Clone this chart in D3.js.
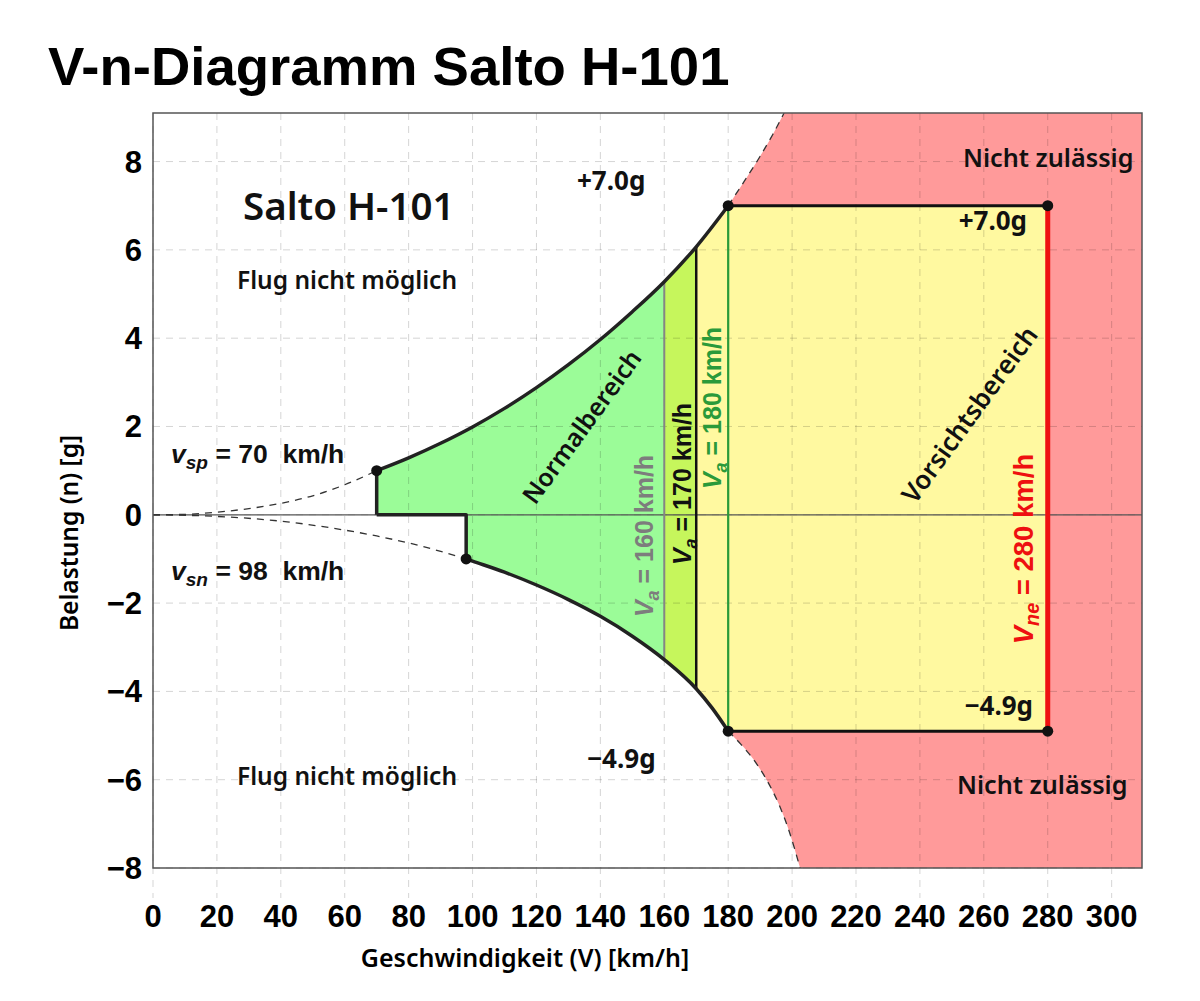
<!DOCTYPE html>
<html><head><meta charset="utf-8">
<script src="https://cdn.jsdelivr.net/npm/d3@7"></script>
<style>html,body{margin:0;padding:0;background:#fff;} svg{display:block;}</style>
</head><body>
<svg id="chart" width="1200" height="1001"></svg>
<script>
// ---------- data ----------
const xTicks = [0,20,40,60,80,100,120,140,160,180,200,220,240,260,280,300];
const yTicks = [-8,-6,-4,-2,0,2,4,6,8];

// positive stall line (dashed part, below v_sp)
const posStallV = [0,10,20,30,40,50,60,70];
const posStallN = [0,0.01,0.06,0.14,0.26,0.43,0.68,1.0];
// positive envelope boundary (solid)
const upperV = [70,80,90,100,110,120,130,140,150,160,170,180];
const upperN = [1.0,1.29,1.62,1.99,2.41,2.88,3.4,3.97,4.6,5.28,6.07,7.0];
// continuation above +7 g (dashed)
const upperExtV = [180,185,190,194,197.5];
const upperExtN = [7.0,7.55,8.12,8.62,9.1];

// negative stall line (dashed part, below v_sn)
const negStallV = [0,14,28,42,56,70,84,98];
const negStallN = [0,-0.02,-0.07,-0.16,-0.3,-0.48,-0.71,-1.0];
// negative envelope boundary (solid)
const lowerV = [98,100,110,120,130,140,150,160,170,175,180];
const lowerN = [-1.0,-1.05,-1.3,-1.59,-1.92,-2.3,-2.75,-3.28,-3.94,-4.38,-4.9];
// continuation below -4.9 g (dashed)
const lowerExtV = [180,184,188,192,196,199,202.5];
const lowerExtN = [-4.9,-5.2,-5.55,-6.0,-6.58,-7.15,-8.0];

const vSp = 70, vSn = 98, vA160 = 160, vA170 = 170, vA180 = 180, vNe = 280;
const nPos = 7.0, nNeg = -4.9;
const cornerPoints = [[70,1],[98,-1],[180,7],[180,-4.9],[280,7],[280,-4.9]];

// ---------- layout ----------
const L = 153, R = 1142, T = 113, B = 868;
const x = d3.scaleLinear().domain([0, 309.5]).range([L, R]);
const y = d3.scaleLinear().domain([-8, 9.1]).range([B, T]);

const svg = d3.select("#chart");
const SANS = "'Noto Sans', 'DejaVu Sans', sans-serif";
const ARIAL = "'Liberation Sans', Arial, sans-serif";

const zip = (vs, ns) => vs.map((v, i) => [v, ns[i]]);
const line = d3.line().x(d => x(d[0])).y(d => y(d[1])).curve(d3.curveMonotoneX);
const lin = d3.line().x(d => x(d[0])).y(d => y(d[1]));
const P = (v, n) => x(v) + "," + y(n);
const nAt = (vs, ns, v) => ns[vs.indexOf(v)];

const upperPts = zip(upperV, upperN);
const lowerPts = zip(lowerV, lowerN);

const defs = svg.append("defs");
defs.append("clipPath").attr("id", "plot").append("rect")
  .attr("x", L).attr("y", T).attr("width", R - L).attr("height", B - T);
function band(id, v0, v1) {
  defs.append("clipPath").attr("id", id).append("rect")
    .attr("x", x(v0)).attr("y", T).attr("width", x(v1) - x(v0)).attr("height", B - T);
}
band("cGreen", 60, vA160);
band("cLime", vA160, vA170);
band("cYellow", vA170, 300);

const plotG = svg.append("g").attr("clip-path", "url(#plot)");

// red (not permitted) region
const redPath = line(zip(upperExtV, upperExtN).reverse())
  + "L" + P(vA180, nNeg)
  + line(zip(lowerExtV, lowerExtN)).replace(/^M/, "L")
  + "L" + P(309.5, -8) + "L" + P(309.5, 9.1) + "Z";
plotG.append("path").attr("d", redPath).attr("fill", "#ff9a9a");

// envelope
const envPath = "M" + P(vSp, 0)
  + line(upperPts).replace(/^M/, "L")
  + "L" + P(vNe, nPos) + "L" + P(vNe, nNeg)
  + line(lowerPts.slice().reverse()).replace(/^M/, "L")
  + "L" + P(vSn, 0) + "Z";
plotG.append("path").attr("d", envPath).attr("fill", "#fff9a0").attr("clip-path", "url(#cYellow)");
plotG.append("path").attr("d", envPath).attr("fill", "#c6f65c").attr("clip-path", "url(#cLime)");
plotG.append("path").attr("d", envPath).attr("fill", "#9bfc98").attr("clip-path", "url(#cGreen)");

// grid
const gridG = svg.append("g").attr("stroke", "#000").attr("stroke-opacity", 0.17)
  .attr("stroke-width", 1).attr("stroke-dasharray", "7,6");
gridG.selectAll("line.v").data(xTicks).join("line")
  .attr("x1", d => x(d)).attr("x2", d => x(d)).attr("y1", T).attr("y2", 898);
gridG.selectAll("line.h").data(yTicks).join("line")
  .attr("x1", L).attr("x2", R).attr("y1", d => y(d)).attr("y2", d => y(d));

// zero line
svg.append("line").attr("x1", L).attr("x2", R).attr("y1", y(0)).attr("y2", y(0))
  .attr("stroke", "#555").attr("stroke-width", 1.2);

// dashed stall lines
const dashG = svg.append("g").attr("clip-path", "url(#plot)").attr("fill", "none")
  .attr("stroke", "#333").attr("stroke-width", 1.3).attr("stroke-dasharray", "7,6");
dashG.append("path").attr("d", line(zip(posStallV, posStallN)));
dashG.append("path").attr("d", line(zip(negStallV, negStallN)));
dashG.append("path").attr("d", line(zip(upperExtV, upperExtN)));
dashG.append("path").attr("d", line(zip(lowerExtV, lowerExtN)));

// vertical speed lines
svg.append("line").attr("x1", x(vA160)).attr("x2", x(vA160))
  .attr("y1", y(nAt(upperV, upperN, vA160))).attr("y2", y(nAt(lowerV, lowerN, vA160)))
  .attr("stroke", "#858585").attr("stroke-width", 2);
svg.append("line").attr("x1", x(vA170)).attr("x2", x(vA170))
  .attr("y1", y(nAt(upperV, upperN, vA170))).attr("y2", y(nAt(lowerV, lowerN, vA170)))
  .attr("stroke", "#111").attr("stroke-width", 2.5);
svg.append("line").attr("x1", x(vA180)).attr("x2", x(vA180))
  .attr("y1", y(nPos)).attr("y2", y(nNeg))
  .attr("stroke", "#2a9a3a").attr("stroke-width", 2.2);
svg.append("line").attr("x1", x(vNe)).attr("x2", x(vNe))
  .attr("y1", y(nPos)).attr("y2", y(nNeg))
  .attr("stroke", "#ee1010").attr("stroke-width", 5);

// envelope outline
const outG = svg.append("g").attr("fill", "none").attr("stroke", "#222")
  .attr("stroke-width", 3.5).attr("stroke-linejoin", "round");
outG.append("path").attr("d", "M" + P(vSp, 0) + line(upperPts).replace(/^M/, "L"));
outG.append("path").attr("d", lin([[vA180, nPos], [vNe, nPos]])).attr("stroke", "#111").attr("stroke-width", 3);
outG.append("path").attr("d", "M" + P(vSp, 0) + "L" + P(vSn, 0) + line(lowerPts).replace(/^M/, "L"));
outG.append("path").attr("d", lin([[vA180, nNeg], [vNe, nNeg]])).attr("stroke", "#111").attr("stroke-width", 3);

// corner dots
svg.selectAll("circle.pt").data(cornerPoints).join("circle")
  .attr("cx", d => x(d[0])).attr("cy", d => y(d[1])).attr("r", 5.5).attr("fill", "#111");

// frame
svg.append("rect").attr("x", L).attr("y", T).attr("width", R - L).attr("height", B - T)
  .attr("fill", "none").attr("stroke", "#555").attr("stroke-width", 1.5);

// axes tick labels
svg.append("g").selectAll("text").data(xTicks).join("text")
  .attr("x", d => x(d)).attr("y", 927).attr("text-anchor", "middle")
  .attr("font-family", ARIAL).attr("font-weight", "bold").attr("font-size", 31)
  .text(d => d3.format("d")(d));
svg.append("g").selectAll("text").data(yTicks).join("text")
  .attr("x", 142).attr("y", d => y(d) + 11).attr("text-anchor", "end")
  .attr("font-family", ARIAL).attr("font-weight", "bold").attr("font-size", 31)
  .text(d => d3.format("d")(d));

// title
svg.append("text").attr("x", 48).attr("y", 85)
  .attr("font-family", ARIAL).attr("font-weight", "bold").attr("font-size", 54.5)
  .text("V-n-Diagramm Salto H-101");

// axis titles
svg.append("text").attr("x", 525).attr("y", 967).attr("text-anchor", "middle")
  .attr("font-family", SANS).attr("font-weight", 600).attr("font-size", 25)
  .text("Geschwindigkeit (V) [km/h]");
svg.append("text").attr("transform", "translate(78,533) rotate(-90)").attr("text-anchor", "middle")
  .attr("font-family", SANS).attr("font-weight", 600).attr("font-size", 24.5)
  .text("Belastung (n) [g]");

function label(txt, px, py, opts = {}) {
  return svg.append("text").attr("x", px).attr("y", py)
    .attr("text-anchor", opts.anchor || "start")
    .attr("font-family", opts.family || SANS)
    .attr("font-weight", opts.weight || 600)
    .attr("font-size", opts.size || 24.5)
    .attr("fill", opts.fill || "#111")
    .text(txt);
}
label("Salto H-101", 243, 220, {size: 38.5});
label("Flug nicht möglich", 237, 289);
label("Flug nicht möglich", 237, 785);
label("+7.0g", 577, 190, {size: 26, weight: 700});
label("\u22124.9g", 587, 768, {size: 26, weight: 700});
label("+7.0g", 1027, 230, {size: 26, weight: 700, anchor: "end"});
label("\u22124.9g", 1033, 715, {size: 26, weight: 700, anchor: "end"});
label("Nicht zulässig", 963, 167, {size: 25.2});
label("Nicht zulässig", 957, 794, {size: 25.2});

svg.append("text").attr("transform", "translate(589,432) rotate(-54)").attr("text-anchor", "middle")
  .attr("font-family", SANS).attr("font-weight", 600).attr("font-size", 25).attr("fill", "#111")
  .text("Normalbereich");
svg.append("text").attr("transform", "translate(977,420) rotate(-54)").attr("text-anchor", "middle")
  .attr("font-family", SANS).attr("font-weight", 600).attr("font-size", 26).attr("fill", "#111")
  .text("Vorsichtsbereich");

// speed labels with subscripts
function speedLabel(g, main, sub, rest, size, fill) {
  const t = g.append("text").attr("font-family", ARIAL).attr("font-weight", "bold")
    .attr("font-size", size).attr("fill", fill).attr("xml:space", "preserve");
  t.append("tspan").attr("font-style", "italic").text(main);
  t.append("tspan").attr("font-style", "italic").attr("font-size", size * 0.72)
    .attr("dy", size * 0.22).text(sub);
  t.append("tspan").attr("dy", -size * 0.22).text(rest);
  return t;
}
speedLabel(svg.append("g").attr("transform", "translate(171,463)"), "v", "sp", " = 70  km/h", 26.5, "#111");
speedLabel(svg.append("g").attr("transform", "translate(171,580)"), "v", "sn", " = 98  km/h", 26.5, "#111");

function vertLabel(px, py, main, sub, rest, size, fill) {
  const g = svg.append("g").attr("transform", `translate(${px},${py}) rotate(-90)`);
  const t = speedLabel(g, main, sub, rest, size, fill);
  t.attr("text-anchor", "middle");
}
vertLabel(653, 536, "V", "a", " = 160 km/h", 25, "#7d7d7d");
vertLabel(691, 484, "V", "a", " = 170 km/h", 25, "#111");
vertLabel(721, 408, "V", "a", " = 180 km/h", 25, "#2a9a3a");
vertLabel(1033, 549, "V", "ne", " = 280 km/h", 27.5, "#ee1010");
</script>
</body></html>
